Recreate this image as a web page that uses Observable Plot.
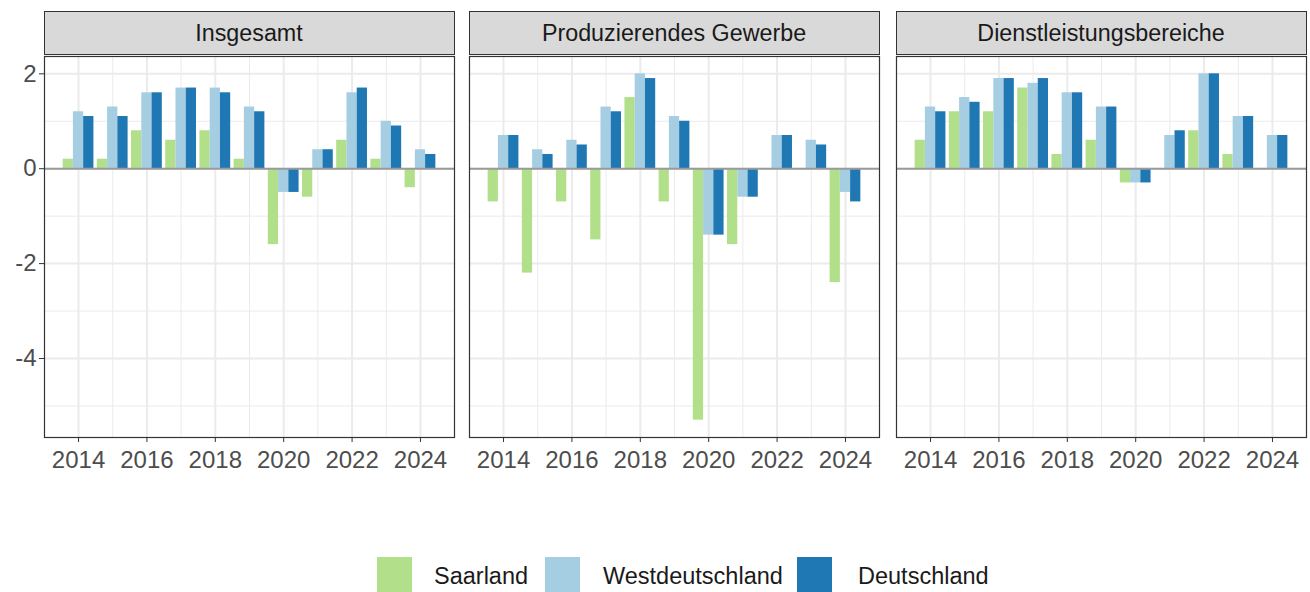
<!DOCTYPE html>
<html>
<head>
<meta charset="utf-8">
<script src="https://cdn.jsdelivr.net/npm/d3@7"></script>
<script src="https://cdn.jsdelivr.net/npm/@observablehq/plot@0.6"></script>
<style>
  html, body { margin: 0; padding: 0; background: #fff; }
  #root { position: relative; width: 1310px; height: 592px; overflow: hidden; font-family: "Liberation Sans", Arial, sans-serif; }
  .strip { position: absolute; top: 11px; height: 44px; background: #d9d9d9; border: 1px solid #333; box-sizing: border-box;
           display: flex; align-items: center; justify-content: center; font-size: 23.3px; color: #1a1a1a; }
  .panel { position: absolute; top: 55px; }
  .key { position: absolute; top: 557px; width: 35px; height: 35px; }
  .lab { position: absolute; top: 561px; font-size: 23.5px; color: #1a1a1a; line-height: 30px; }
</style>
</head>
<body>
<div id="root"></div>
<script>
const years = [2014, 2015, 2016, 2017, 2018, 2019, 2020, 2021, 2022, 2023, 2024];
const facets = ["Insgesamt", "Produzierendes Gewerbe", "Dienstleistungsbereiche"];
const seriesNames = ["Saarland", "Westdeutschland", "Deutschland"];
const seriesColors = ["#b2df8a", "#a6cee3", "#1f78b4"];
const xTicks = [2014, 2016, 2018, 2020, 2022, 2024];
const xMinor = [2015, 2017, 2019, 2021, 2023];
const yTicks = [-4, -2, 0, 2];
const yMinor = [-5, -3, -1, 1];

// Insgesamt
const insSaarland = [0.2, 0.2, 0.8, 0.6, 0.8, 0.2, -1.6, -0.6, 0.6, 0.2, -0.4];
const insWest     = [1.2, 1.3, 1.6, 1.7, 1.7, 1.3, -0.5, 0.4, 1.6, 1.0, 0.4];
const insDeutsch  = [1.1, 1.1, 1.6, 1.7, 1.6, 1.2, -0.5, 0.4, 1.7, 0.9, 0.3];
// Produzierendes Gewerbe
const pgSaarland = [-0.7, -2.2, -0.7, -1.5, 1.5, -0.7, -5.3, -1.6, 0, 0, -2.4];
const pgWest     = [0.7, 0.4, 0.6, 1.3, 2.0, 1.1, -1.4, -0.6, 0.7, 0.6, -0.5];
const pgDeutsch  = [0.7, 0.3, 0.5, 1.2, 1.9, 1.0, -1.4, -0.6, 0.7, 0.5, -0.7];
// Dienstleistungsbereiche
const dlSaarland = [0.6, 1.2, 1.2, 1.7, 0.3, 0.6, -0.3, 0, 0.8, 0.3, 0];
const dlWest     = [1.3, 1.5, 1.9, 1.8, 1.6, 1.3, -0.3, 0.7, 2.0, 1.1, 0.7];
const dlDeutsch  = [1.2, 1.4, 1.9, 1.9, 1.6, 1.3, -0.3, 0.8, 2.0, 1.1, 0.7];

const facetValues = [
  [insSaarland, insWest, insDeutsch],
  [pgSaarland, pgWest, pgDeutsch],
  [dlSaarland, dlWest, dlDeutsch]
];

const barW = 0.3; // dodge width 0.9 / 3 series
const xDomain = [2013.005, 2024.995];
const yDomain = [-5.665, 2.365];

const root = document.getElementById("root");
const panelLefts = [44, 469, 896];
const panelWidth = 410;

facets.forEach((facet, fi) => {
  const rows = [];
  facetValues[fi].forEach((vals, si) => {
    vals.forEach((v, yi) => rows.push({year: years[yi], si, series: seriesNames[si], value: v}));
  });
  const showY = fi === 0;
  const mLeft = showY ? 44 : 1;
  const marks = [
    Plot.gridY(yMinor, {stroke: "#ebebeb", strokeOpacity: 1, strokeWidth: 1}),
    Plot.gridX(xMinor, {stroke: "#ebebeb", strokeOpacity: 1, strokeWidth: 1}),
    Plot.gridY(yTicks, {stroke: "#ebebeb", strokeOpacity: 1, strokeWidth: 2}),
    Plot.gridX(xTicks, {stroke: "#ebebeb", strokeOpacity: 1, strokeWidth: 2}),
    Plot.rectY(rows, {
      x1: d => d.year + (d.si - 1) * barW - barW / 2,
      x2: d => d.year + (d.si - 1) * barW + barW / 2,
      y1: 0, y2: "value", fill: "series"
    }),
    Plot.ruleY([0], {stroke: "#9a9a9a", strokeWidth: 2}),
    Plot.frame({stroke: "#333", strokeWidth: 1.2}),
    Plot.axisX(xTicks, {tickSize: 5, tickPadding: 8, tickFormat: d => String(d), stroke: "#333", fill: "#4d4d4d", fontSize: 24, label: null})
  ];
  if (showY) marks.push(Plot.axisY(yTicks, {tickSize: 5, tickPadding: 3, tickFormat: d => String(d), stroke: "#333", fill: "#4d4d4d", fontSize: 24, label: null}));
  const chart = Plot.plot({
    width: mLeft + panelWidth + 1,
    height: 427,
    marginLeft: mLeft, marginRight: 1, marginTop: 1, marginBottom: 45,
    x: {domain: xDomain, axis: null, label: null},
    y: {domain: yDomain, axis: null, label: null},
    color: {domain: seriesNames, range: seriesColors},
    style: {fontSize: "24px", fontFamily: "'Liberation Sans', Arial, sans-serif", background: "transparent", overflow: "visible"},
    marks
  });
  chart.classList.add("panel");
  chart.style.left = (panelLefts[fi] - mLeft) + "px";
  root.appendChild(chart);

  const strip = document.createElement("div");
  strip.className = "strip";
  strip.style.left = (panelLefts[fi] - 0.5) + "px";
  strip.style.width = (panelWidth + 1) + "px";
  strip.textContent = facet;
  root.appendChild(strip);
});

const keyLefts = [377, 545, 797];
const labLefts = [434, 603, 858];
seriesNames.forEach((name, i) => {
  const k = document.createElement("div");
  k.className = "key";
  k.style.left = keyLefts[i] + "px";
  k.style.background = seriesColors[i];
  const t = document.createElement("div");
  t.className = "lab";
  t.style.left = labLefts[i] + "px";
  t.textContent = name;
  root.appendChild(k);
  root.appendChild(t);
});
</script>
</body>
</html>
